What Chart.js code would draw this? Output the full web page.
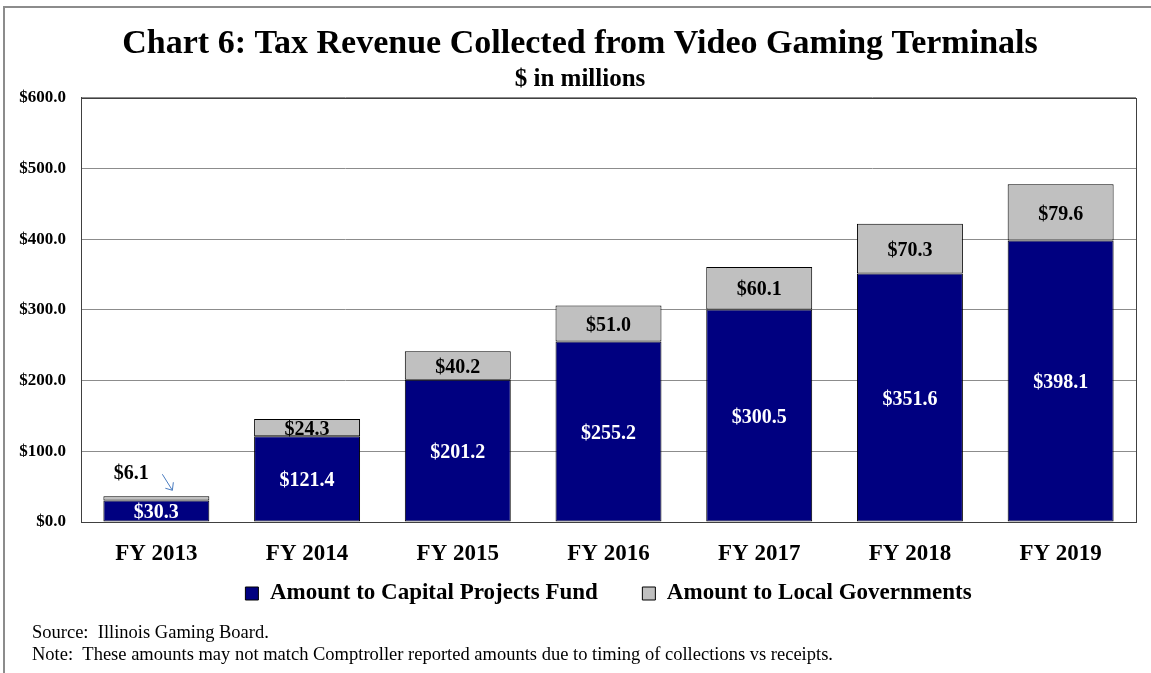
<!DOCTYPE html>
<html>
<head>
<meta charset="utf-8">
<script src="https://cdn.jsdelivr.net/npm/chart.js@4"></script>
<style>
  html, body { margin: 0; padding: 0; background: #ffffff; }
  #wrap { width: 1151px; height: 673px; }
</style>
</head>
<body>
<div id="wrap"><canvas id="vgtChart" width="1151" height="673"></canvas></div>
<script>
// ------------------------------------------------------------
// data ($ in millions)
// ------------------------------------------------------------
const fiscalYears = ['FY 2013', 'FY 2014', 'FY 2015', 'FY 2016', 'FY 2017', 'FY 2018', 'FY 2019'];
const capitalFund = [30.3, 121.4, 201.2, 255.2, 300.5, 351.6, 398.1];
const localGovts  = [6.1, 24.3, 40.2, 51.0, 60.1, 70.3, 79.6];
const yTicks      = [0, 100, 200, 300, 400, 500, 600];

const SERIF = '"Liberation Serif", "Times New Roman", Times, serif';
const NAVY = '#000080';
const SILVER = '#c0c0c0';

function money(v) {
  return '$' + Number(v).toFixed(1);
}

// frame, plot box and footer notes
const decorPlugin = {
  id: 'decor',
  beforeDraw(chart) {
    const c = chart.ctx;
    c.save();
    c.fillStyle = '#ffffff';
    c.fillRect(0, 0, chart.width, chart.height);
    c.strokeStyle = '#8c8c8c';
    c.lineWidth = 2;
    c.beginPath();
    c.moveTo(4, chart.height);
    c.lineTo(4, 7);
    c.lineTo(chart.width, 7);
    c.stroke();
    c.restore();
  },
  afterDraw(chart) {
    const c = chart.ctx;
    const a = chart.chartArea;
    c.save();
    c.strokeStyle = '#404040';
    c.lineWidth = 1;
    c.strokeRect(Math.round(a.left) + 0.5, Math.round(a.top) + 0.5,
                 Math.round(a.right - a.left), Math.round(a.bottom - a.top));

    c.fillStyle = '#000000';
    c.font = '18.5px ' + SERIF;
    c.textAlign = 'left';
    c.textBaseline = 'middle';
    c.fillText('Source:  Illinois Gaming Board.', 32, 633);
    c.fillText('Note:  These amounts may not match Comptroller reported amounts due to timing of collections vs receipts.', 32, 655);
    c.restore();
  }
};

// value labels inside each segment; the small FY 2013 slice gets an outside label with an arrow
const segmentLabels = {
  id: 'segmentLabels',
  afterDatasetsDraw(chart) {
    const c = chart.ctx;
    c.save();
    c.font = 'bold 20px ' + SERIF;
    c.textAlign = 'center';
    c.textBaseline = 'middle';

    chart.getDatasetMeta(0).data.forEach(function(bar, i) {
      c.fillStyle = '#ffffff';
      c.fillText(money(capitalFund[i]), bar.x, (bar.y + bar.base) / 2 + 2);
    });

    chart.getDatasetMeta(1).data.forEach(function(bar, i) {
      c.fillStyle = '#000000';
      if (i === 0) {
        c.fillText(money(localGovts[i]), bar.x - 25, bar.y - 22);
        // pointer arrow
        const x0 = bar.x + 6, y0 = bar.y - 22;
        const x1 = bar.x + 16, y1 = bar.y - 6;
        c.strokeStyle = '#4a7cc0';
        c.lineWidth = 1;
        c.beginPath();
        c.moveTo(x0, y0);
        c.lineTo(x1, y1);
        c.moveTo(x1 - 7, y1 - 2);
        c.lineTo(x1, y1);
        c.lineTo(x1 + 1, y1 - 8);
        c.stroke();
      } else {
        c.fillText(money(localGovts[i]), bar.x, (bar.y + bar.base) / 2 + 2);
      }
    });
    c.restore();
  }
};

const ctx = document.getElementById('vgtChart').getContext('2d');

new Chart(ctx, {
  type: 'bar',
  data: {
    labels: fiscalYears,
    datasets: [
      {
        label: 'Amount to Capital Projects Fund',
        data: capitalFund,
        backgroundColor: NAVY,
        borderColor: '#000000',
        borderWidth: 1,
        borderSkipped: false
      },
      {
        label: 'Amount to Local Governments',
        data: localGovts,
        backgroundColor: SILVER,
        borderColor: '#000000',
        borderWidth: 1,
        borderSkipped: false
      }
    ]
  },
  options: {
    responsive: false,
    animation: false,
    devicePixelRatio: 1,
    layout: { padding: { left: 9, right: 0, top: 0, bottom: 58 } },
    datasets: {
      bar: { categoryPercentage: 1.0, barPercentage: 0.703 }
    },
    plugins: {
      title: {
        display: true,
        text: 'Chart 6: Tax Revenue Collected from Video Gaming Terminals',
        color: '#000000',
        font: { family: SERIF, size: 34, weight: 'bold' },
        padding: { top: 24, bottom: 0 }
      },
      subtitle: {
        display: true,
        text: '$ in millions',
        color: '#000000',
        font: { family: SERIF, size: 25, weight: 'bold' },
        padding: { top: 0, bottom: 3 }
      },
      legend: {
        position: 'bottom',
        fullSize: false,
        labels: {
          color: '#000000',
          font: { family: SERIF, size: 23, weight: 'bold' },
          boxWidth: 13,
          boxHeight: 13,
          padding: 10,
          // widen the gap after the first entry
          generateLabels(chart) {
            const items = Chart.defaults.plugins.legend.labels.generateLabels(chart);
            items[0].text += '\u2003\u2002';
            return items;
          }
        }
      },
      tooltip: { enabled: false }
    },
    scales: {
      x: {
        stacked: true,
        grid: { display: false },
        border: { color: '#404040' },
        ticks: {
          color: '#000000',
          padding: 10,
          font: { family: SERIF, size: 23, weight: 'bold' }
        },
        afterFit(scale) { scale.height = 50; }
      },
      y: {
        stacked: true,
        min: 0,
        max: 600,
        afterBuildTicks(scale) {
          scale.ticks = yTicks.map(function(v) { return { value: v }; });
        },
        grid: { color: '#8c8c8c', drawTicks: false },
        border: { color: '#404040' },
        ticks: {
          color: '#000000',
          padding: 15,
          font: { family: SERIF, size: 17, weight: 'bold' },
          callback: function(v) { return money(v); }
        },
        afterFit(scale) { scale.width = 72; }
      },
      // empty right-hand margin next to the plot
      yRight: {
        type: 'linear',
        position: 'right',
        grid: { display: false },
        border: { display: false },
        ticks: { display: false },
        afterFit(scale) { scale.width = 15; }
      }
    }
  },
  plugins: [decorPlugin, segmentLabels]
});
</script>
</body>
</html>
